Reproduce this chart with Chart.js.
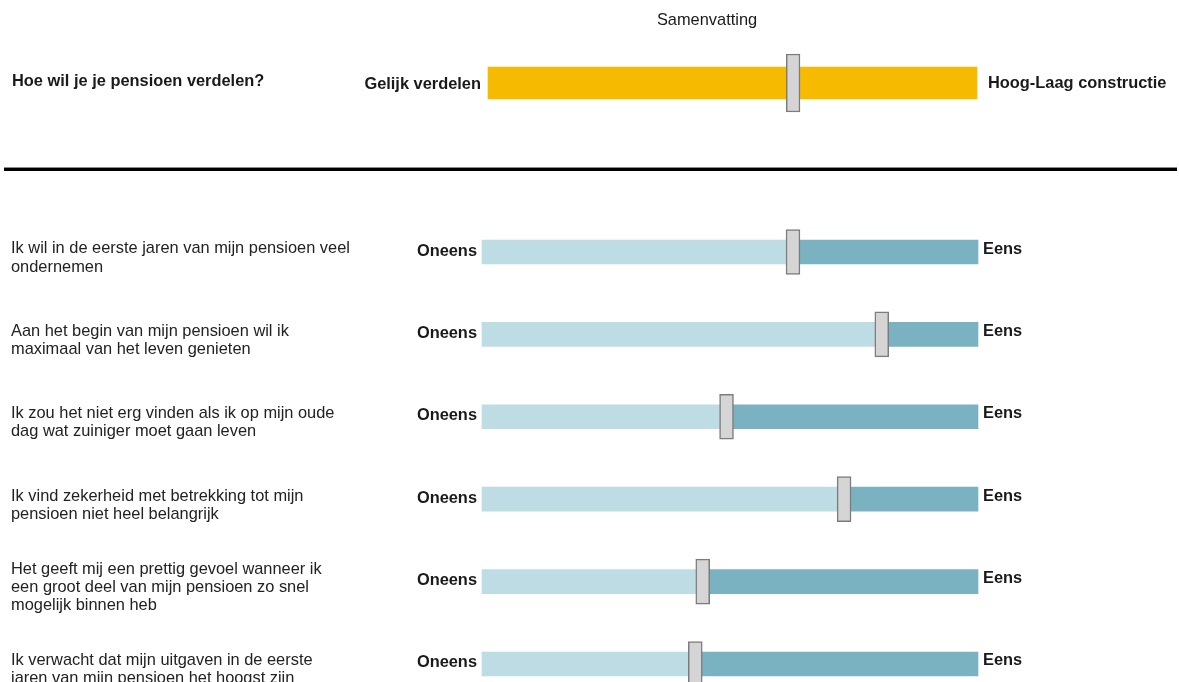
<!DOCTYPE html>
<html><head><meta charset="utf-8">
<script src="https://cdn.jsdelivr.net/npm/chart.js@4.4.1/dist/chart.umd.min.js"></script>
<style>
html,body{margin:0;padding:0;background:#fff;overflow:hidden;width:1179px;height:682px;}
#top{position:absolute;left:0;top:0;}
#bottom{position:absolute;left:0;top:175px;}
#sep{position:absolute;left:4px;top:167px;width:1173px;height:3px;background:#000;border-top:1px solid #8c8c8c;}
</style></head><body>
<canvas id="top" width="1179" height="165"></canvas>
<div id="sep"></div>
<canvas id="bottom" width="1179" height="507"></canvas>
<script>
// ---- data ----
const summaryTitle = 'Samenvatting';
const summaryLabels = ['Hoe wil je je pensioen verdelen?'];
const summaryEnds = ['Gelijk verdelen', 'Hoog-Laag constructie'];
const summaryValues = [62.4];

const statementLabels = [
  ['Ik wil in de eerste jaren van mijn pensioen veel', 'ondernemen'],
  ['Aan het begin van mijn pensioen wil ik', 'maximaal van het leven genieten'],
  ['Ik zou het niet erg vinden als ik op mijn oude', 'dag wat zuiniger moet gaan leven'],
  ['Ik vind zekerheid met betrekking tot mijn', 'pensioen niet heel belangrijk'],
  ['Het geeft mij een prettig gevoel wanneer ik', 'een groot deel van mijn pensioen zo snel', 'mogelijk binnen heb'],
  ['Ik verwacht dat mijn uitgaven in de eerste', 'jaren van mijn pensioen het hoogst zijn']
];
const statementValues = [62.7, 80.6, 49.3, 73.0, 44.5, 43.0];
const scaleEnds = ['Oneens', 'Eens'];
const scaleMin = 0, scaleMax = 100;

// ---- style ----
const FONT = "'Liberation Sans', Arial, Helvetica, sans-serif";
const FS = 16.4;
const TXT = '#1a1a1a';
const YELLOW = '#F6BA00';
const LIGHT = '#BEDCE3';
const DARK = '#7AB2C1';
const HANDLE = '#D5D5D5';
const HANDLE_BORDER = '#7c7c7c';
const HALF_HANDLE = 1.4;

function handleData(vals){ return vals.map(v => [v - HALF_HANDLE, v + HALF_HANDLE]); }

// ---- summary chart ----
const summaryText = {
  id: 'summaryText',
  afterDatasetsDraw(chart) {
    const ctx = chart.ctx, a = chart.chartArea, ys = chart.scales.y;
    ctx.save();
    ctx.fillStyle = TXT;
    ctx.textBaseline = 'middle';
    ctx.font = `${FS}px ${FONT}`;
    ctx.textAlign = 'center';
    ctx.fillText(summaryTitle, 707, 20);
    ctx.font = `bold ${FS}px ${FONT}`;
    summaryValues.forEach((v, i) => {
      const y = ys.getPixelForValue(i) + 1;
      ctx.textAlign = 'right';
      ctx.fillText(summaryEnds[0], a.left - 7, y);
      ctx.textAlign = 'left';
      ctx.fillText(summaryEnds[1], a.right + 11, y - 1);
    });
    ctx.restore();
  }
};

new Chart(document.getElementById('top'), {
  type: 'bar',
  data: {
    labels: summaryLabels,
    datasets: [
      { data: handleData(summaryValues), backgroundColor: HANDLE, borderColor: HANDLE_BORDER,
        borderWidth: 1.5, borderSkipped: false, barThickness: 58, order: 0, clip: false },
      { data: summaryValues.map(() => [scaleMin, scaleMax]), backgroundColor: YELLOW,
        borderWidth: 0, barThickness: 32, order: 1, clip: false }
    ]
  },
  options: {
    indexAxis: 'y',
    responsive: false,
    animation: false,
    events: [],
    layout: { padding: { left: 12, right: 202, top: 33, bottom: 32 } },
    plugins: { legend: { display: false }, tooltip: { enabled: false }, title: { display: false } },
    datasets: { bar: { grouped: false } },
    scales: {
      x: { display: false, min: scaleMin, max: scaleMax },
      y: {
        grid: { display: false, drawTicks: false }, border: { display: false },
        ticks: { crossAlign: 'far', padding: 0, color: TXT, labelOffset: -2,
                 font: { family: FONT, size: FS, weight: 'bold' } },
        afterFit(s) { s.width = 488 - 12; }
      }
    }
  },
  plugins: [summaryText]
});

// ---- statements chart ----
const endsText = {
  id: 'endsText',
  afterDatasetsDraw(chart) {
    const ctx = chart.ctx, a = chart.chartArea, ys = chart.scales.y;
    ctx.save();
    ctx.fillStyle = TXT;
    ctx.textBaseline = 'middle';
    ctx.font = `bold ${FS}px ${FONT}`;
    statementValues.forEach((v, i) => {
      const y = ys.getPixelForValue(i);
      ctx.textAlign = 'right';
      ctx.fillText(scaleEnds[0], a.left - 5, y - 1);
      ctx.textAlign = 'left';
      ctx.fillText(scaleEnds[1], a.right + 5, y - 3);
    });
    ctx.restore();
  }
};

new Chart(document.getElementById('bottom'), {
  type: 'bar',
  data: {
    labels: statementLabels,
    datasets: [
      { data: handleData(statementValues), backgroundColor: HANDLE, borderColor: HANDLE_BORDER,
        borderWidth: 1.5, borderSkipped: false, barThickness: 45, order: 0, clip: false },
      { data: statementValues.map(v => [scaleMin, v]), backgroundColor: LIGHT,
        borderWidth: 0, barThickness: 24, order: 1, clip: false },
      { data: statementValues.map(v => [v, scaleMax]), backgroundColor: DARK,
        borderWidth: 0, barThickness: 24, order: 2, clip: false }
    ]
  },
  options: {
    indexAxis: 'y',
    responsive: false,
    animation: false,
    events: [],
    layout: { padding: { left: 11, right: 201, top: 77, bottom: 17 } },
    plugins: { legend: { display: false }, tooltip: { enabled: false } },
    datasets: { bar: { grouped: false } },
    scales: {
      x: { display: false, min: scaleMin, max: scaleMax },
      y: {
        offset: false,
        grid: { display: false, drawTicks: false }, border: { display: false },
        ticks: { crossAlign: 'far', padding: 0, color: '#222', autoSkip: false, labelOffset: 6,
                 font: { family: FONT, size: FS, lineHeight: 1.1 } },
        afterFit(s) { s.width = 482 - 11; }
      }
    }
  },
  plugins: [endsText]
});
</script>
</body></html>
